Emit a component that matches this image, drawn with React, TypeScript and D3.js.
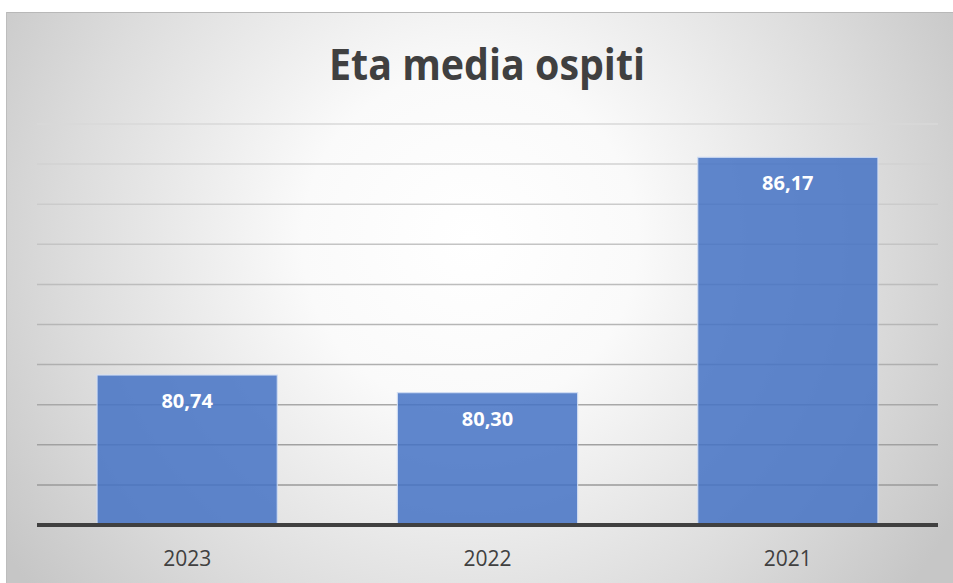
import React from "react";
import * as d3 from "d3";

const categories = ["2023", "2022", "2021"];
const values = [80.74, 80.3, 86.17];
const valueLabels = ["80,74", "80,30", "86,17"];
const yMin = 77;
const yMax = 87;
const title = "Eta media ospiti";

const W = 953;
const H = 583;

export default function App() {
  const x = d3
    .scaleBand<string>()
    .domain(categories)
    .range([37, 938])
    .paddingInner(0.4)
    .paddingOuter(0.2);
  const y = d3.scaleLinear().domain([yMin, yMax]).range([525, 124]);
  const ticks = d3.range(yMin + 1, yMax + 1);
  const gridColor = d3
    .scaleLinear<string>()
    .domain([yMax, yMin + 1])
    .range(["#d9d9d9", "#9a9a9a"]);

  return (
    <svg
      width={W}
      height={H}
      style={{ position: "absolute", left: 0, top: 0 }}
      xmlns="http://www.w3.org/2000/svg"
    >
      <defs>
        <radialGradient
          id="bg"
          gradientUnits="userSpaceOnUse"
          cx={470}
          cy={240}
          r={560}
        >
          <stop offset="0" stopColor="#ffffff" />
          <stop offset="0.3" stopColor="#fafafa" />
          <stop offset="0.72" stopColor="#dcdcdc" />
          <stop offset="1" stopColor="#c6c6c6" />
        </radialGradient>
      </defs>
      <rect x={0} y={0} width={W} height={H} fill="#ffffff" />
      <rect x={6} y={12} width={W - 6} height={H - 12} fill="url(#bg)" />
      <line x1={6} x2={W} y1={12.5} y2={12.5} stroke="#b8b8b8" strokeWidth={1} />
      <line x1={6.5} x2={6.5} y1={12} y2={H} stroke="#bdbdbd" strokeWidth={1} />

      <text
        x={487}
        y={80}
        textAnchor="middle"
        fontFamily="'Open Sans', 'Noto Sans', sans-serif"
        fontWeight={700}
        fontSize={43}
        fill="#404040"
        textLength={316}
        lengthAdjust="spacingAndGlyphs"
      >
        {title}
      </text>

      {ticks.map((t) => (
        <line
          key={t}
          x1={37}
          x2={938}
          y1={y(t)}
          y2={y(t)}
          stroke={gridColor(t)}
          strokeWidth={1.5}
        />
      ))}

      {categories.map((c, i) => (
        <rect
          key={c}
          x={x(c)!}
          y={y(values[i])}
          width={x.bandwidth()}
          height={y(yMin) - y(values[i])}
          fill="#4472C4"
          fillOpacity={0.85}
          stroke="#d2def3"
          strokeOpacity={0.9}
          strokeWidth={1.2}
        />
      ))}

      <line x1={37} x2={938} y1={y(yMin)} y2={y(yMin)} stroke="#404040" strokeWidth={4} />

      {categories.map((c, i) => (
        <text
          key={"v" + c}
          x={x(c)! + x.bandwidth() / 2}
          y={y(values[i]) + 33}
          textAnchor="middle"
          fontFamily="'Open Sans', 'Noto Sans', sans-serif"
          fontWeight={700}
          fontSize={20}
          fill="#ffffff"
        >
          {valueLabels[i]}
        </text>
      ))}

      {categories.map((c) => (
        <text
          key={"c" + c}
          x={x(c)! + x.bandwidth() / 2}
          y={566}
          textAnchor="middle"
          fontFamily="'Open Sans', 'Noto Sans', sans-serif"
          fontSize={21}
          fill="#404040"
        >
          {c}
        </text>
      ))}
    </svg>
  );
}
